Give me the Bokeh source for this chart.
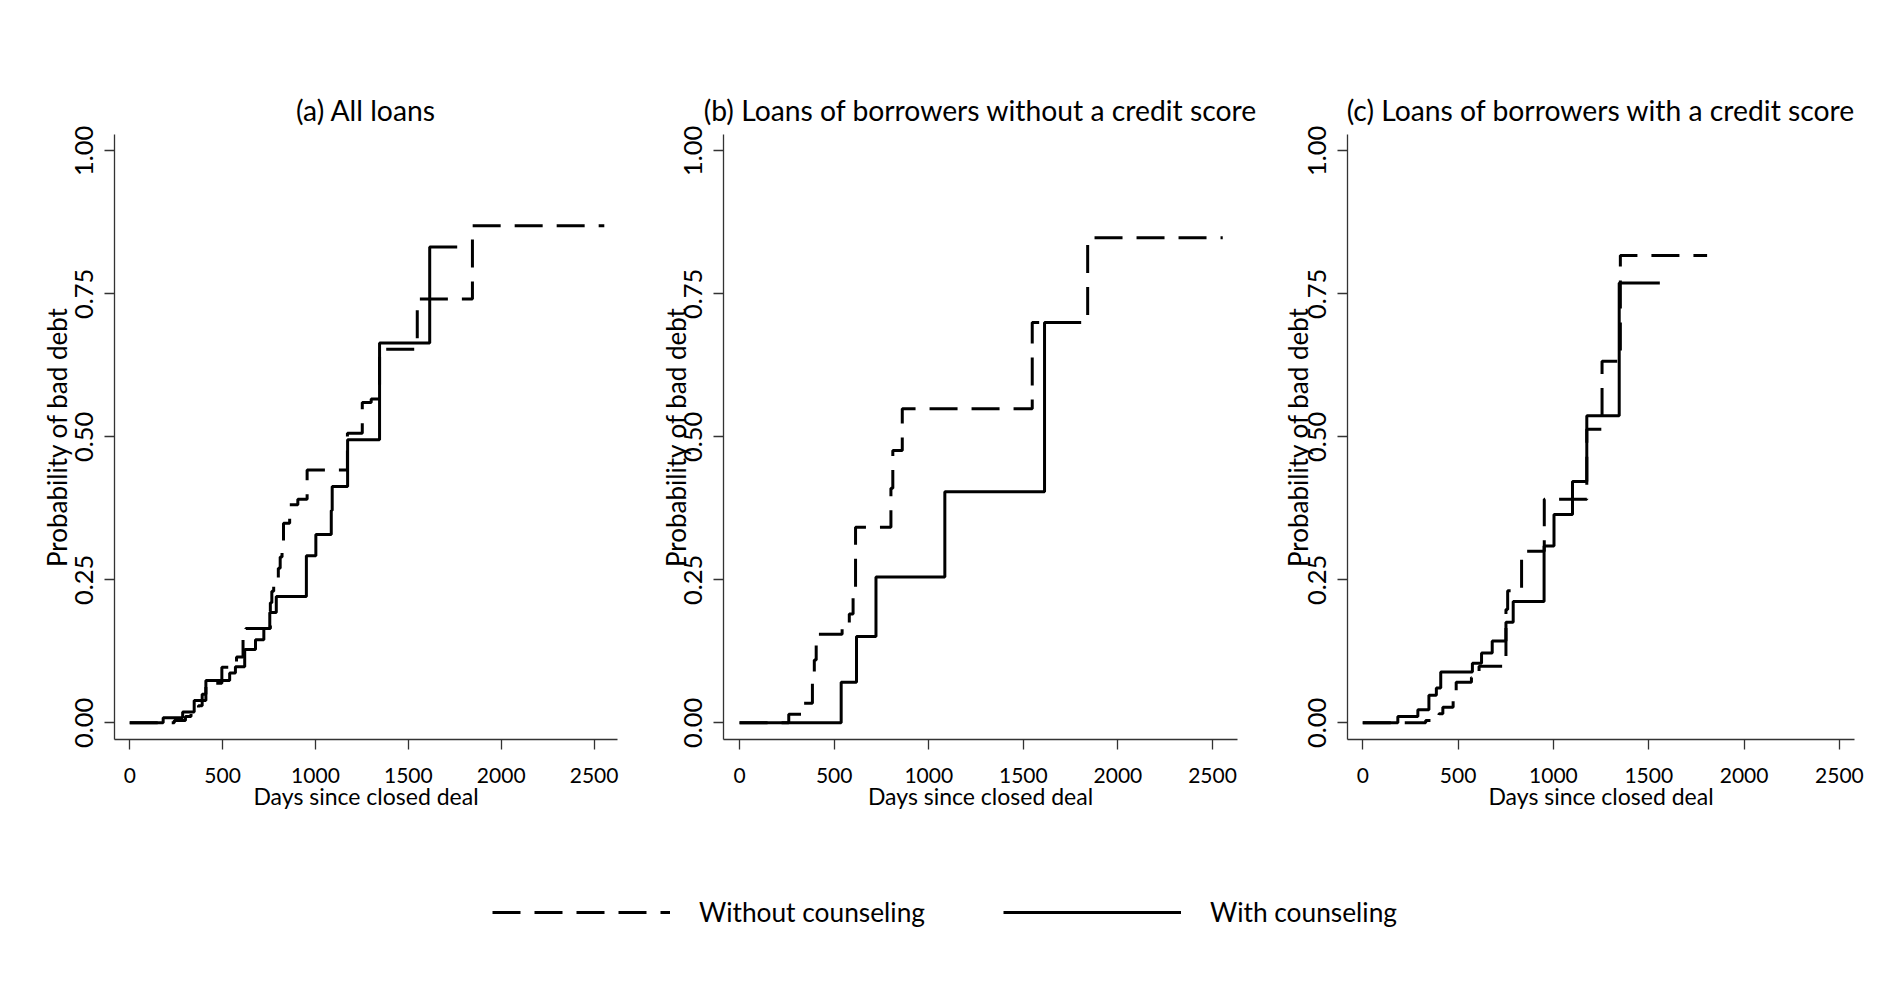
from bokeh.plotting import figure
from bokeh.layouts import row, column
from bokeh.models import FixedTicker, Range1d, Legend, LegendItem
from bokeh.embed import file_html
from bokeh.resources import INLINE

# ---------------- data ----------------
titles = ["(a) All loans",
          "(b) Loans of borrowers without a credit score",
          "(c) Loans of borrowers with a credit score"]
series_names = ["Without counseling", "With counseling"]

x_ticks = [0, 500, 1000, 1500, 2000, 2500]
y_ticks = [0.0, 0.25, 0.5, 0.75, 1.0]
y_tick_labels = ["0.00", "0.25", "0.50", "0.75", "1.00"]

# (a) All loans
a_days_without = [0, 240, 300, 330, 370, 390, 410, 420, 496, 575, 610, 625, 757, 765, 775,
                  800, 810, 820, 828, 861, 905, 955, 1172, 1252, 1300, 1345, 1548, 1845, 2555]
a_prob_without = [0, 0.004, 0.011, 0.02, 0.03, 0.05, 0.065, 0.069, 0.097, 0.115, 0.153, 0.165, 0.21, 0.23, 0.249,
                  0.27, 0.29, 0.316, 0.349, 0.381, 0.391, 0.442, 0.506, 0.56, 0.566, 0.653, 0.741, 0.869, 0.869]
a_days_with = [0, 180, 285, 347, 410, 538, 569, 619, 677, 722, 754, 789, 951, 1002, 1085, 1090,
               1173, 1345, 1615, 1763]
a_prob_with = [0, 0.009, 0.019, 0.039, 0.074, 0.087, 0.098, 0.128, 0.145, 0.165, 0.193, 0.221, 0.292, 0.329, 0.371, 0.413,
               0.495, 0.664, 0.832, 0.832]

# (b) Borrowers without a credit score
b_days_without = [0, 260, 340, 385, 395, 405, 542, 580, 600, 613, 800, 810, 860, 1547, 1840, 2554]
b_prob_without = [0, 0.015, 0.034, 0.07, 0.11, 0.155, 0.173, 0.19, 0.23, 0.342, 0.41, 0.476, 0.549, 0.700, 0.848, 0.848]
b_days_with = [0, 537, 618, 721, 1085, 1612, 1716]
b_prob_with = [0, 0.071, 0.151, 0.255, 0.404, 0.700, 0.700]

# (c) Borrowers with a credit score
c_days_without = [0, 330, 400, 420, 474, 490, 570, 610, 751, 760, 833, 952, 1175, 1255, 1351, 1806]
c_prob_without = [0, 0.004, 0.016, 0.027, 0.039, 0.071, 0.079, 0.099, 0.198, 0.231, 0.30, 0.391, 0.513, 0.632, 0.817, 0.817]
c_days_with = [0, 184, 289, 347, 386, 409, 575, 623, 679, 751, 789, 951, 1003, 1100, 1175, 1345, 1558]
c_prob_with = [0, 0.011, 0.023, 0.048, 0.061, 0.089, 0.104, 0.122, 0.143, 0.176, 0.212, 0.309, 0.364, 0.422, 0.537, 0.769, 0.769]

# ---------------- styling ----------------
FONT = "Lato"
TXT = "#000000"
AX = "#333333"
DASH = "28 14"
FIG_H = 850


def make_panel(title, dw, pw, dc, pc, width, mbl, mbr, xr, ylab_standoff):
    p = figure(width=width, height=FIG_H, title=title,
               x_range=Range1d(*xr), y_range=Range1d(-0.0292, 1.0285),
               output_backend="svg", toolbar_location=None,
               min_border_left=mbl, min_border_right=mbr,
               min_border_top=134, min_border_bottom=111)
    p.step(dw, pw, mode="after", line_color="black", line_width=3, line_dash=DASH)
    p.step(dc, pc, mode="after", line_color="black", line_width=3)

    p.title.text_font = FONT
    p.title.text_font_size = "28.3px"
    p.title.text_font_style = "normal"
    p.title.text_color = TXT
    p.title.align = "center"
    p.title.standoff = 16

    p.xgrid.visible = False
    p.ygrid.visible = False
    p.outline_line_color = None
    p.background_fill_color = "white"
    p.border_fill_color = "white"

    p.xaxis.ticker = FixedTicker(ticks=x_ticks)
    p.yaxis.ticker = FixedTicker(ticks=y_ticks)
    p.yaxis.major_label_overrides = {t: l for t, l in zip(y_ticks, y_tick_labels)}
    p.yaxis.major_label_orientation = "vertical"

    for ax in p.axis:
        ax.axis_line_color = AX
        ax.axis_line_width = 1.3
        ax.major_tick_line_color = AX
        ax.major_tick_line_width = 1.3
        ax.major_tick_out = 10
        ax.major_tick_in = 0
        ax.minor_tick_line_color = None
        ax.major_label_text_font = FONT
        ax.major_label_text_color = TXT
        ax.axis_label_text_font = FONT
        ax.axis_label_text_font_style = "normal"
        ax.axis_label_text_color = TXT

    p.xaxis.major_label_text_font_size = "21px"
    p.xaxis.axis_label_text_font_size = "23px"
    p.xaxis.axis_label = "Days since closed deal"
    p.xaxis.major_label_standoff = 18
    p.xaxis.axis_label_standoff = -4

    p.yaxis.major_label_text_font_size = "25.5px"
    p.yaxis.axis_label_text_font_size = "26px"
    p.yaxis.axis_label = "Probability of bad debt"
    p.yaxis.major_label_standoff = 11
    p.yaxis.axis_label_standoff = ylab_standoff
    return p


# panel a occupies x 0..634, b 634..1262, c 1262..1869 (page pixels)
fa = make_panel(titles[0], a_days_without, a_prob_without, a_days_with, a_prob_with,
                634, 114, 17, (-82, 2626), 0)
fb = make_panel(titles[1], b_days_without, b_prob_without, b_days_with, b_prob_with,
                628, 89, 25, (-85, 2632), -10)
fc = make_panel(titles[2], c_days_without, c_prob_without, c_days_with, c_prob_with,
                607, 85, 15, (-80, 2579), -8)

# ---------------- legend strip ----------------
leg = figure(width=1869, height=118, x_range=Range1d(0, 1), y_range=Range1d(0, 1),
             output_backend="svg", toolbar_location=None,
             x_axis_location=None, y_axis_location=None, min_border=0)
leg.xgrid.visible = False
leg.ygrid.visible = False
leg.outline_line_color = None
# legend-only renderers: a single point placed outside the visible range
r_wo = leg.line(x=[-5], y=[-5], line_color="black", line_width=3, line_dash=DASH)
r_w = leg.line(x=[-5], y=[-5], line_color="black", line_width=3)
legend = Legend(items=[LegendItem(label=series_names[0], renderers=[r_wo]),
                       LegendItem(label=series_names[1], renderers=[r_w])],
                orientation="horizontal", location=(492, 40),
                glyph_width=178, glyph_height=30, label_height=30,
                label_standoff=29, label_width=260, spacing=44,
                padding=0, margin=0, border_line_color=None,
                background_fill_alpha=0,
                label_text_font=FONT, label_text_font_size="26.3px",
                label_text_color=TXT)
leg.add_layout(legend)

layout = column(row(fa, fb, fc), leg)
open("out.html", "w").write(file_html(layout, INLINE))
